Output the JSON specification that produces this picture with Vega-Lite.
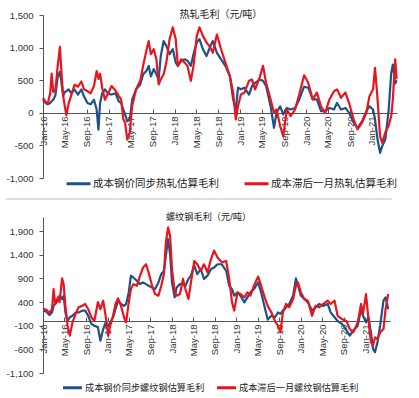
{
"$schema": "https://vega.github.io/schema/vega-lite/v6.json",
"padding": {"left": 5, "top": 10, "right": 5, "bottom": 5},
"background": "white",
"config": {"view": {"stroke": null}, "font": "Liberation Sans, Noto Sans CJK SC", "axis": {"grid": false, "domainColor": "#555", "tickColor": "#555", "labelColor": "#333", "labelFontSize": 9.5, "labelOverlap": false, "labelFlush": false, "title": null}},
"resolve": {"scale": {"color": "independent", "x": "independent", "y": "independent"}, "legend": {"color": "independent"}},
"spacing": 8,
"datasets": {
"hr": [
{"d":"2016-01-01","a":200,"b":230},{"d":"2016-01-16","a":150,"b":160},{"d":"2016-01-27","a":130,"b":140},{"d":"2016-02-10","a":150,"b":300},{"d":"2016-02-18","a":180,"b":600},{"d":"2016-02-27","a":200,"b":320},{"d":"2016-03-10","a":270,"b":350},{"d":"2016-03-22","a":540,"b":700},{"d":"2016-04-04","a":630,"b":1010},{"d":"2016-04-13","a":450,"b":600},{"d":"2016-04-22","a":260,"b":260},{"d":"2016-05-01","a":320,"b":100},{"d":"2016-05-10","a":330,"b":-40},{"d":"2016-05-22","a":360,"b":140},{"d":"2016-06-07","a":300,"b":280},{"d":"2016-06-24","a":360,"b":430},{"d":"2016-07-13","a":280,"b":400},{"d":"2016-08-01","a":360,"b":480},{"d":"2016-08-16","a":250,"b":360},{"d":"2016-09-04","a":150,"b":330},{"d":"2016-09-22","a":130,"b":300},{"d":"2016-10-10","a":200,"b":410},{"d":"2016-10-25","a":50,"b":640},{"d":"2016-11-04","a":-260,"b":520},{"d":"2016-11-13","a":150,"b":600},{"d":"2016-11-25","a":300,"b":380},{"d":"2016-12-10","a":360,"b":200},{"d":"2016-12-28","a":290,"b":300},{"d":"2017-01-16","a":280,"b":410},{"d":"2017-02-07","a":300,"b":340},{"d":"2017-02-24","a":180,"b":260},{"d":"2017-03-10","a":150,"b":205},{"d":"2017-03-22","a":50,"b":-100},{"d":"2017-04-01","a":-25,"b":-150},{"d":"2017-04-13","a":-130,"b":-410},{"d":"2017-04-27","a":-100,"b":-300},{"d":"2017-05-10","a":200,"b":100},{"d":"2017-06-01","a":360,"b":360},{"d":"2017-06-24","a":435,"b":490},{"d":"2017-07-10","a":590,"b":720},{"d":"2017-07-28","a":640,"b":950},{"d":"2017-08-10","a":720,"b":1100},{"d":"2017-08-22","a":560,"b":900},{"d":"2017-09-07","a":670,"b":975},{"d":"2017-09-22","a":590,"b":820},{"d":"2017-10-04","a":510,"b":435},{"d":"2017-10-16","a":870,"b":510},{"d":"2017-11-01","a":1100,"b":590},{"d":"2017-11-16","a":1025,"b":770},{"d":"2017-12-04","a":900,"b":1130},{"d":"2017-12-22","a":975,"b":1310},{"d":"2018-01-07","a":770,"b":1130},{"d":"2018-01-19","a":720,"b":720},{"d":"2018-02-07","a":800,"b":820},{"d":"2018-02-26","a":820,"b":770},{"d":"2018-03-13","a":800,"b":720},{"d":"2018-04-01","a":720,"b":490},{"d":"2018-04-16","a":900,"b":720},{"d":"2018-05-04","a":1080,"b":1180},{"d":"2018-05-19","a":1130,"b":1310},{"d":"2018-06-07","a":975,"b":1180},{"d":"2018-06-27","a":870,"b":1080},{"d":"2018-07-19","a":1025,"b":1000},{"d":"2018-08-01","a":1100,"b":920},{"d":"2018-08-24","a":920,"b":1200},{"d":"2018-09-16","a":820,"b":975},{"d":"2018-10-10","a":720,"b":770},{"d":"2018-11-04","a":560,"b":560},{"d":"2018-11-22","a":205,"b":310},{"d":"2018-12-07","a":50,"b":-100},{"d":"2018-12-19","a":385,"b":100},{"d":"2019-01-04","a":360,"b":280},{"d":"2019-01-24","a":385,"b":310},{"d":"2019-02-18","a":280,"b":490},{"d":"2019-03-07","a":410,"b":510},{"d":"2019-03-24","a":460,"b":360},{"d":"2019-04-18","a":510,"b":540},{"d":"2019-05-07","a":490,"b":720},{"d":"2019-05-24","a":410,"b":460},{"d":"2019-06-18","a":100,"b":205},{"d":"2019-07-07","a":-230,"b":0},{"d":"2019-07-21","a":0,"b":50},{"d":"2019-08-10","a":100,"b":-200},{"d":"2019-08-27","a":-25,"b":-360},{"d":"2019-09-16","a":75,"b":50},{"d":"2019-10-07","a":50,"b":-50},{"d":"2019-11-01","a":75,"b":50},{"d":"2019-11-24","a":205,"b":280},{"d":"2019-12-21","a":400,"b":575},{"d":"2020-01-13","a":385,"b":460},{"d":"2020-02-07","a":205,"b":205},{"d":"2020-03-01","a":205,"b":310},{"d":"2020-03-24","a":25,"b":100},{"d":"2020-04-16","a":25,"b":0},{"d":"2020-05-10","a":75,"b":205},{"d":"2020-06-04","a":50,"b":330},{"d":"2020-06-21","a":150,"b":360},{"d":"2020-07-13","a":50,"b":230},{"d":"2020-08-07","a":75,"b":310},{"d":"2020-08-27","a":0,"b":150},{"d":"2020-09-21","a":-150,"b":-100},{"d":"2020-10-13","a":-230,"b":-255},{"d":"2020-11-07","a":-130,"b":-150},{"d":"2020-12-01","a":25,"b":0},{"d":"2020-12-18","a":100,"b":255},{"d":"2021-01-07","a":50,"b":360},{"d":"2021-01-18","a":-100,"b":690},{"d":"2021-02-01","a":-410,"b":205},{"d":"2021-02-15","a":-615,"b":-360},{"d":"2021-02-27","a":-510,"b":-460},{"d":"2021-03-16","a":-410,"b":-300},{"d":"2021-04-04","a":50,"b":-200},{"d":"2021-04-18","a":615,"b":-50},{"d":"2021-04-27","a":740,"b":205},{"d":"2021-05-10","a":450,"b":820},{"d":"2021-05-18","a":500,"b":520}
],
"rb": [
{"d":"2016-01-01","a":220,"b":250},{"d":"2016-01-19","a":200,"b":240},{"d":"2016-02-07","a":125,"b":170},{"d":"2016-02-21","a":180,"b":250},{"d":"2016-03-01","a":320,"b":675},{"d":"2016-03-10","a":360,"b":360},{"d":"2016-03-25","a":430,"b":500},{"d":"2016-04-04","a":535,"b":400},{"d":"2016-04-18","a":465,"b":900},{"d":"2016-04-27","a":535,"b":780},{"d":"2016-05-07","a":180,"b":320},{"d":"2016-05-19","a":0,"b":-100},{"d":"2016-06-01","a":80,"b":-310},{"d":"2016-06-16","a":110,"b":-30},{"d":"2016-07-04","a":180,"b":150},{"d":"2016-07-21","a":180,"b":290},{"d":"2016-08-10","a":220,"b":320},{"d":"2016-08-27","a":220,"b":360},{"d":"2016-09-13","a":110,"b":250},{"d":"2016-10-01","a":-60,"b":80},{"d":"2016-10-18","a":-100,"b":0},{"d":"2016-11-07","a":-130,"b":400},{"d":"2016-11-21","a":-415,"b":250},{"d":"2016-12-07","a":-170,"b":430},{"d":"2016-12-21","a":-30,"b":110},{"d":"2017-01-04","a":-100,"b":-310},{"d":"2017-01-16","a":-30,"b":-100},{"d":"2017-02-01","a":80,"b":110},{"d":"2017-02-15","a":250,"b":360},{"d":"2017-03-01","a":430,"b":480},{"d":"2017-03-18","a":360,"b":320},{"d":"2017-04-04","a":320,"b":80},{"d":"2017-04-16","a":360,"b":-30},{"d":"2017-05-01","a":610,"b":400},{"d":"2017-05-13","a":960,"b":675},{"d":"2017-05-27","a":920,"b":780},{"d":"2017-06-16","a":850,"b":745},{"d":"2017-07-04","a":780,"b":960},{"d":"2017-07-21","a":815,"b":1130},{"d":"2017-08-07","a":780,"b":1200},{"d":"2017-08-21","a":745,"b":1030},{"d":"2017-09-10","a":710,"b":745},{"d":"2017-09-27","a":675,"b":570},{"d":"2017-10-16","a":815,"b":535},{"d":"2017-11-01","a":990,"b":745},{"d":"2017-11-16","a":1060,"b":990},{"d":"2017-11-27","a":1380,"b":1660},{"d":"2017-12-10","a":1730,"b":1980},{"d":"2017-12-21","a":1410,"b":1800},{"d":"2018-01-01","a":815,"b":1100},{"d":"2018-01-16","a":500,"b":605},{"d":"2018-01-27","a":710,"b":535},{"d":"2018-02-15","a":780,"b":570},{"d":"2018-03-04","a":780,"b":890},{"d":"2018-03-18","a":745,"b":675},{"d":"2018-04-04","a":890,"b":465},{"d":"2018-04-18","a":960,"b":815},{"d":"2018-05-07","a":1170,"b":1270},{"d":"2018-05-24","a":990,"b":1200},{"d":"2018-06-13","a":1100,"b":1060},{"d":"2018-07-01","a":890,"b":1200},{"d":"2018-07-21","a":960,"b":1030},{"d":"2018-08-10","a":1100,"b":1310},{"d":"2018-08-27","a":1130,"b":1490},{"d":"2018-09-16","a":1200,"b":1345},{"d":"2018-10-10","a":1200,"b":1240},{"d":"2018-11-04","a":1060,"b":1270},{"d":"2018-11-21","a":745,"b":890},{"d":"2018-12-07","a":675,"b":395},{"d":"2018-12-19","a":535,"b":220},{"d":"2019-01-07","a":605,"b":605},{"d":"2019-01-24","a":535,"b":570},{"d":"2019-02-15","a":395,"b":500},{"d":"2019-03-04","a":500,"b":605},{"d":"2019-03-21","a":605,"b":535},{"d":"2019-04-10","a":675,"b":745},{"d":"2019-05-04","a":815,"b":940},{"d":"2019-05-21","a":605,"b":745},{"d":"2019-06-10","a":290,"b":500},{"d":"2019-06-27","a":30,"b":320},{"d":"2019-07-18","a":110,"b":180},{"d":"2019-08-07","a":80,"b":0},{"d":"2019-08-24","a":180,"b":-100},{"d":"2019-09-07","a":150,"b":-240},{"d":"2019-09-21","a":220,"b":180},{"d":"2019-10-10","a":290,"b":360},{"d":"2019-10-27","a":360,"b":290},{"d":"2019-11-18","a":535,"b":465},{"d":"2019-12-04","a":900,"b":745},{"d":"2019-12-16","a":745,"b":815},{"d":"2020-01-01","a":535,"b":605},{"d":"2020-01-21","a":465,"b":465},{"d":"2020-02-10","a":395,"b":430},{"d":"2020-03-04","a":220,"b":110},{"d":"2020-03-24","a":290,"b":320},{"d":"2020-04-13","a":360,"b":290},{"d":"2020-05-07","a":320,"b":360},{"d":"2020-06-01","a":360,"b":430},{"d":"2020-06-18","a":180,"b":360},{"d":"2020-07-10","a":80,"b":430},{"d":"2020-07-27","a":0,"b":110},{"d":"2020-08-21","a":-60,"b":40},{"d":"2020-09-16","a":-200,"b":0},{"d":"2020-10-04","a":-310,"b":-170},{"d":"2020-10-24","a":-200,"b":-240},{"d":"2020-11-18","a":-100,"b":-30},{"d":"2020-12-07","a":250,"b":360},{"d":"2020-12-18","a":110,"b":150},{"d":"2021-01-04","a":-30,"b":570},{"d":"2021-01-18","a":80,"b":40},{"d":"2021-02-01","a":-240,"b":-450},{"d":"2021-02-13","a":-590,"b":-520},{"d":"2021-02-24","a":-660,"b":-345},{"d":"2021-03-10","a":-450,"b":-380},{"d":"2021-03-25","a":-100,"b":-240},{"d":"2021-04-13","a":430,"b":-170},{"d":"2021-04-25","a":500,"b":250},{"d":"2021-05-10","a":250,"b":570}
]
},
"vconcat": [
{
"width": 354, "height": 163,
"layer": [
{
"data": {"name": "hr"},
"transform": [{"fold": ["a", "b"], "as": ["k", "v"]}],
"mark": {"type": "line", "strokeWidth": 2.2, "strokeJoin": "round"},
"encoding": {
"x": {"field": "d", "type": "temporal", "scale": {"type": "utc", "domain": [{"year": 2016, "month": 1, "date": 1, "utc": true}, {"year": 2021, "month": 5, "date": 20, "utc": true}]},
"axis": {"title": null, "format": "%b-%y", "labelAngle": 270, "offset": -65, "tickSize": -4, "labelPadding": 7, "labelOverlap": false,
"values": [{"year":2016,"month":1,"date":1,"utc":true},{"year":2016,"month":5,"date":1,"utc":true},{"year":2016,"month":9,"date":1,"utc":true},{"year":2017,"month":1,"date":1,"utc":true},{"year":2017,"month":5,"date":1,"utc":true},{"year":2017,"month":9,"date":1,"utc":true},{"year":2018,"month":1,"date":1,"utc":true},{"year":2018,"month":5,"date":1,"utc":true},{"year":2018,"month":9,"date":1,"utc":true},{"year":2019,"month":1,"date":1,"utc":true},{"year":2019,"month":5,"date":1,"utc":true},{"year":2019,"month":9,"date":1,"utc":true},{"year":2020,"month":1,"date":1,"utc":true},{"year":2020,"month":5,"date":1,"utc":true},{"year":2020,"month":9,"date":1,"utc":true},{"year":2021,"month":1,"date":1,"utc":true}]}},
"y": {"field": "v", "type": "quantitative", "scale": {"domain": [-1000, 1500], "nice": false, "zero": false}, "axis": {"title": null, "values": [-1000, -500, 0, 500, 1000, 1500], "labelExpr": "replace(format(datum.value, ',.0f'), '−', '-')", "tickSize": 4, "labelPadding": 6, "labelOverlap": false}},
"color": {"field": "k", "type": "nominal", "scale": {"domain": ["a", "b"], "range": ["#1e5286", "#e8141e"]},
"legend": {"title": null, "orient": "none", "legendX": 28, "legendY": 161, "direction": "horizontal", "symbolType": "M-2,0L2,0", "symbolSize": 144, "symbolStrokeWidth": 3, "labelFontSize": 10.5, "labelColor": "#222", "labelOffset": 7, "columnPadding": 19,
"labelExpr": "datum.value == 'a' ? '成本钢价同步热轧估算毛利' : '成本滞后一月热轧估算毛利'"}}
}
},
{
"data": {"values": [{"t": "热轧毛利（元/吨）"}]},
"mark": {"type": "text", "fontSize": 10, "color": "#222", "baseline": "middle", "align": "center"},
"encoding": {
"text": {"field": "t"},
"x": {"datum": {"year": 2018, "month": 9, "date": 15, "utc": true}, "type": "temporal",
"axis": {"title": null, "format": "%b-%y", "labelAngle": 270, "offset": -65, "tickSize": -4, "labelPadding": 7, "labelOverlap": false,
"values": [{"year":2016,"month":1,"date":1,"utc":true},{"year":2016,"month":5,"date":1,"utc":true},{"year":2016,"month":9,"date":1,"utc":true},{"year":2017,"month":1,"date":1,"utc":true},{"year":2017,"month":5,"date":1,"utc":true},{"year":2017,"month":9,"date":1,"utc":true},{"year":2018,"month":1,"date":1,"utc":true},{"year":2018,"month":5,"date":1,"utc":true},{"year":2018,"month":9,"date":1,"utc":true},{"year":2019,"month":1,"date":1,"utc":true},{"year":2019,"month":5,"date":1,"utc":true},{"year":2019,"month":9,"date":1,"utc":true},{"year":2020,"month":1,"date":1,"utc":true},{"year":2020,"month":5,"date":1,"utc":true},{"year":2020,"month":9,"date":1,"utc":true},{"year":2021,"month":1,"date":1,"utc":true}]}},
"y": {"datum": 1500, "type": "quantitative", "axis": {"title": null, "values": [-1000, -500, 0, 500, 1000, 1500], "labelExpr": "replace(format(datum.value, ',.0f'), '−', '-')", "tickSize": 4, "labelPadding": 6, "labelOverlap": false}}
}
}
]
},
{
"width": 347, "height": 156,
"layer": [
{
"data": {"name": "rb"},
"transform": [{"fold": ["a", "b"], "as": ["k", "v"]}],
"mark": {"type": "line", "strokeWidth": 2.2, "strokeJoin": "round"},
"encoding": {
"x": {"field": "d", "type": "temporal", "scale": {"type": "utc", "domain": [{"year": 2016, "month": 1, "date": 1, "utc": true}, {"year": 2021, "month": 5, "date": 20, "utc": true}]},
"axis": {"title": null, "format": "%b-%y", "labelAngle": 270, "offset": -52, "tickSize": -4, "labelPadding": 7, "labelOverlap": false,
"values": [{"year":2016,"month":1,"date":1,"utc":true},{"year":2016,"month":5,"date":1,"utc":true},{"year":2016,"month":9,"date":1,"utc":true},{"year":2017,"month":1,"date":1,"utc":true},{"year":2017,"month":5,"date":1,"utc":true},{"year":2017,"month":9,"date":1,"utc":true},{"year":2018,"month":1,"date":1,"utc":true},{"year":2018,"month":5,"date":1,"utc":true},{"year":2018,"month":9,"date":1,"utc":true},{"year":2019,"month":1,"date":1,"utc":true},{"year":2019,"month":5,"date":1,"utc":true},{"year":2019,"month":9,"date":1,"utc":true},{"year":2020,"month":1,"date":1,"utc":true},{"year":2020,"month":5,"date":1,"utc":true},{"year":2020,"month":9,"date":1,"utc":true},{"year":2021,"month":1,"date":1,"utc":true}]}},
"y": {"field": "v", "type": "quantitative", "scale": {"domain": [-1100, 2200], "nice": false, "zero": false}, "axis": {"title": null, "values": [-1100, -600, -100, 400, 900, 1400, 1900], "labelExpr": "replace(format(datum.value, ',.0f'), '−', '-')", "tickSize": 4, "labelPadding": 6, "labelOverlap": false}},
"color": {"field": "k", "type": "nominal", "scale": {"domain": ["a", "b"], "range": ["#1e5286", "#e8141e"]},
"legend": {"title": null, "orient": "none", "legendX": 23, "legendY": 164, "direction": "horizontal", "symbolType": "M-2,0L2,0", "symbolSize": 90, "symbolStrokeWidth": 3, "labelFontSize": 9.2, "labelColor": "#222", "labelOffset": 6, "columnPadding": 6,
"labelExpr": "datum.value == 'a' ? '成本钢价同步螺纹钢估算毛利' : '成本滞后一月螺纹钢估算毛利'"}}
}
},
{
"data": {"values": [{}]},
"mark": {"type": "rule", "color": "#bbbbbb", "strokeWidth": 1},
"encoding": {
"y": {"datum": 2580, "type": "quantitative", "axis": {"title": null, "values": [-1100, -600, -100, 400, 900, 1400, 1900], "labelExpr": "replace(format(datum.value, ',.0f'), '−', '-')", "tickSize": 4, "labelPadding": 6, "labelOverlap": false}},
"x": {"datum": {"year": 2015, "month": 6, "date": 5, "utc": true}, "type": "temporal",
"axis": {"title": null, "format": "%b-%y", "labelAngle": 270, "offset": -52, "tickSize": -4, "labelPadding": 7, "labelOverlap": false,
"values": [{"year":2016,"month":1,"date":1,"utc":true},{"year":2016,"month":5,"date":1,"utc":true},{"year":2016,"month":9,"date":1,"utc":true},{"year":2017,"month":1,"date":1,"utc":true},{"year":2017,"month":5,"date":1,"utc":true},{"year":2017,"month":9,"date":1,"utc":true},{"year":2018,"month":1,"date":1,"utc":true},{"year":2018,"month":5,"date":1,"utc":true},{"year":2018,"month":9,"date":1,"utc":true},{"year":2019,"month":1,"date":1,"utc":true},{"year":2019,"month":5,"date":1,"utc":true},{"year":2019,"month":9,"date":1,"utc":true},{"year":2020,"month":1,"date":1,"utc":true},{"year":2020,"month":5,"date":1,"utc":true},{"year":2020,"month":9,"date":1,"utc":true},{"year":2021,"month":1,"date":1,"utc":true}]}},
"x2": {"datum": {"year": 2021, "month": 5, "date": 30, "utc": true}}
}
},
{
"data": {"values": [{"t": "螺纹钢毛利（元/吨）"}]},
"mark": {"type": "text", "fontSize": 9.2, "color": "#222", "baseline": "middle", "align": "center"},
"encoding": {
"text": {"field": "t"},
"x": {"datum": {"year": 2018, "month": 7, "date": 27, "utc": true}, "type": "temporal",
"axis": {"title": null, "format": "%b-%y", "labelAngle": 270, "offset": -52, "tickSize": -4, "labelPadding": 7, "labelOverlap": false,
"values": [{"year":2016,"month":1,"date":1,"utc":true},{"year":2016,"month":5,"date":1,"utc":true},{"year":2016,"month":9,"date":1,"utc":true},{"year":2017,"month":1,"date":1,"utc":true},{"year":2017,"month":5,"date":1,"utc":true},{"year":2017,"month":9,"date":1,"utc":true},{"year":2018,"month":1,"date":1,"utc":true},{"year":2018,"month":5,"date":1,"utc":true},{"year":2018,"month":9,"date":1,"utc":true},{"year":2019,"month":1,"date":1,"utc":true},{"year":2019,"month":5,"date":1,"utc":true},{"year":2019,"month":9,"date":1,"utc":true},{"year":2020,"month":1,"date":1,"utc":true},{"year":2020,"month":5,"date":1,"utc":true},{"year":2020,"month":9,"date":1,"utc":true},{"year":2021,"month":1,"date":1,"utc":true}]}},
"y": {"datum": 2200, "type": "quantitative", "axis": {"title": null, "values": [-1100, -600, -100, 400, 900, 1400, 1900], "labelExpr": "replace(format(datum.value, ',.0f'), '−', '-')", "tickSize": 4, "labelPadding": 6, "labelOverlap": false}}
}
}
]
}
]
}
